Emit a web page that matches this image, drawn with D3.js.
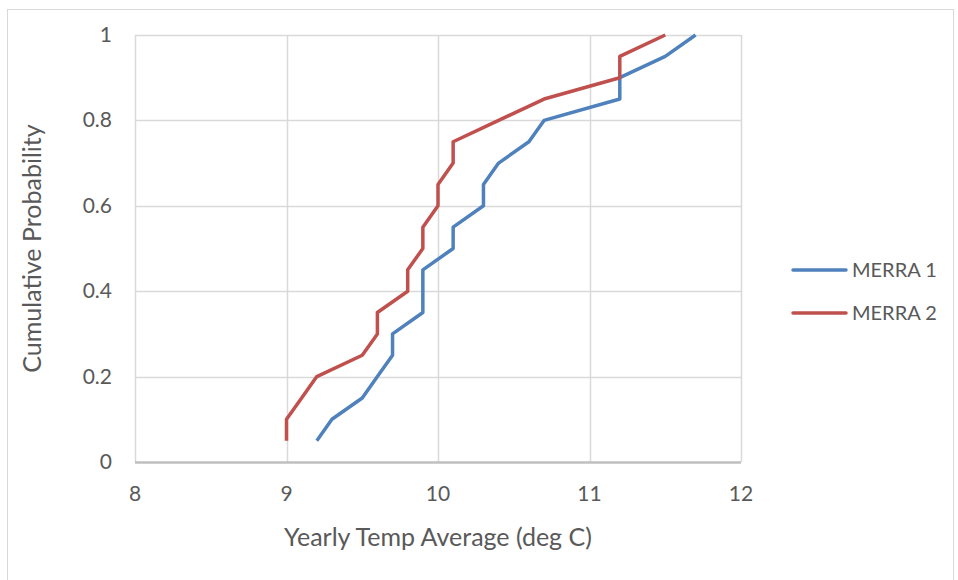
<!DOCTYPE html>
<html>
<head>
<meta charset="utf-8">
<script src="https://cdn.jsdelivr.net/npm/d3@7"></script>
<style>
  html, body { margin: 0; padding: 0; background: #fff; }
  svg { display: block; }
  text { font-family: Lato, "Open Sans", sans-serif; fill: #595959; }
</style>
</head>
<body>
<svg id="chart" width="958" height="580"></svg>
<script>
const probabilities = [0.05,0.10,0.15,0.20,0.25,0.30,0.35,0.40,0.45,0.50,0.55,0.60,0.65,0.70,0.75,0.80,0.85,0.90,0.95,1.00];
const merra1 = [9.2,9.3,9.5,9.6,9.7,9.7,9.9,9.9,9.9,10.1,10.1,10.3,10.3,10.4,10.6,10.7,11.2,11.2,11.5,11.7];
const merra2 = [9.0,9.0,9.1,9.2,9.5,9.6,9.6,9.8,9.8,9.9,9.9,10.0,10.0,10.1,10.1,10.4,10.7,11.2,11.2,11.5];
const seriesNames = ["MERRA 1", "MERRA 2"];
const seriesColors = ["#4F81BD", "#C0504D"];
const xTicks = [8, 9, 10, 11, 12];
const yTicks = [0, 0.2, 0.4, 0.6, 0.8, 1];
const xTitle = "Yearly Temp Average (deg C)";
const yTitle = "Cumulative Probability";

const svg = d3.select("#chart");

// outer chart border
svg.append("rect")
  .attr("x", 7.5).attr("y", 9.5)
  .attr("width", 946).attr("height", 600)
  .attr("fill", "none").attr("stroke", "#D9D9D9").attr("stroke-width", 1);

const x = d3.scaleLinear().domain([8, 12]).range([135, 741]);
const y = d3.scaleLinear().domain([0, 1]).range([462, 35]);

// gridlines
svg.append("g").selectAll("line.h").data(yTicks.filter(d => d > 0)).join("line")
  .attr("x1", x(8)).attr("x2", x(12))
  .attr("y1", d => Math.round(y(d)) + 0.5).attr("y2", d => Math.round(y(d)) + 0.5)
  .attr("stroke", "#D9D9D9").attr("stroke-width", 1.5);
svg.append("g").selectAll("line.v").data(xTicks).join("line")
  .attr("x1", d => Math.round(x(d)) + 0.5).attr("x2", d => Math.round(x(d)) + 0.5)
  .attr("y1", y(1)).attr("y2", y(0))
  .attr("stroke", "#D9D9D9").attr("stroke-width", 1.5);

// bottom axis line
svg.append("line")
  .attr("x1", x(8)).attr("x2", x(12))
  .attr("y1", y(0) + 0.5).attr("y2", y(0) + 0.5)
  .attr("stroke", "#BFBFBF").attr("stroke-width", 2.5);

// tick labels
svg.append("g").selectAll("text").data(xTicks).join("text")
  .attr("x", d => x(d)).attr("y", 501)
  .attr("text-anchor", "middle")
  .attr("font-size", 21)
  .text(d => d);
svg.append("g").selectAll("text").data(yTicks).join("text")
  .attr("x", 112).attr("y", d => y(d) + 7)
  .attr("text-anchor", "end")
  .attr("font-size", 21)
  .text(d => d);

// axis titles
svg.append("text")
  .attr("x", x(10)).attr("y", 546)
  .attr("text-anchor", "middle").attr("font-size", 25)
  .text(xTitle);
svg.append("text")
  .attr("transform", `translate(41, ${y(0.5)}) rotate(-90)`)
  .attr("text-anchor", "middle").attr("font-size", 25)
  .text(yTitle);

// lines
const line = d3.line().x(d => x(d[0])).y(d => y(d[1]));
const seriesData = [merra1, merra2];
seriesData.forEach((vals, i) => {
  const pts = vals.map((v, j) => [v, probabilities[j]]);
  svg.append("path")
    .datum(pts)
    .attr("d", line)
    .attr("fill", "none")
    .attr("stroke", seriesColors[i])
    .attr("stroke-width", 3.5)
    .attr("stroke-linejoin", "round")
    .attr("stroke-linecap", "butt");
});

// legend
const legend = svg.append("g");
seriesNames.forEach((name, i) => {
  const ly = 270 + i * 43;
  legend.append("line")
    .attr("x1", 793).attr("x2", 846)
    .attr("y1", ly).attr("y2", ly)
    .attr("stroke", seriesColors[i]).attr("stroke-width", 3.5)
    .attr("stroke-linecap", "round");
  legend.append("text")
    .attr("x", 852).attr("y", ly + 7)
    .attr("font-size", 20)
    .text(name);
});
</script>
</body>
</html>
